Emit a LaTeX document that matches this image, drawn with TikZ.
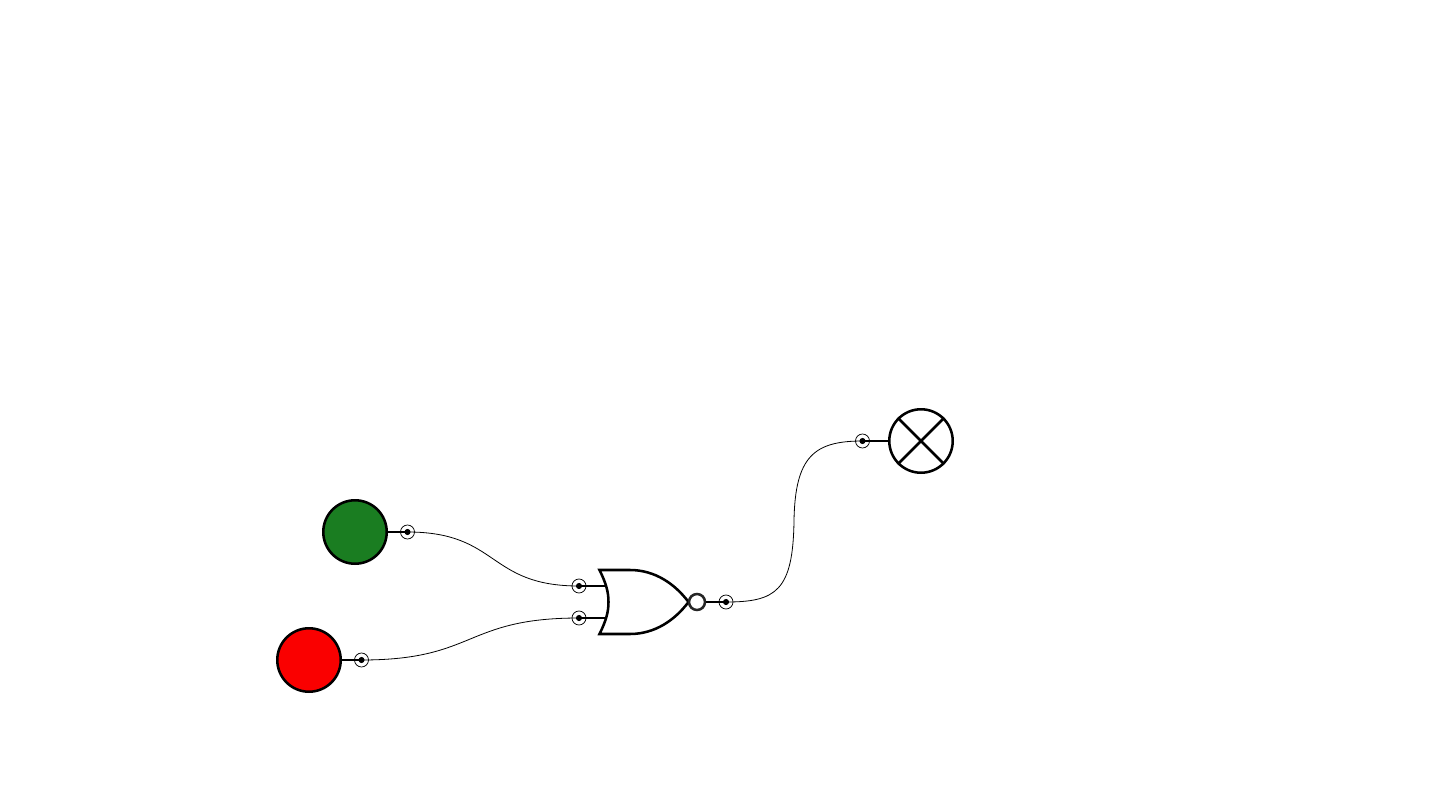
\documentclass[tikz,border=0pt]{standalone}
\definecolor{ledgreen}{RGB}{26,125,33}
\definecolor{ledred}{RGB}{250,0,0}
\tikzset{
  thick line/.style={line width=1.9pt,draw=black},
  wire/.style={line width=0.6pt,draw=black},
  bigcirc/.style={circle,thick line,inner sep=0pt,minimum size=47.6pt},
  terminal/.style={circle,draw=black,line width=0.55pt,inner sep=0pt,minimum size=10.5pt},
  dotmark/.style={circle,fill=black,inner sep=0pt,minimum size=4.6pt},
  bubble/.style={circle,draw=black!85,line width=1.9pt,fill=white,inner sep=0pt,minimum size=12pt},
}
\begin{document}
\begin{tikzpicture}[x=0.75pt,y=-0.75pt]
\useasboundingbox (0,0) rectangle (1440,810);
% sources and lamp
\node[bigcirc,fill=ledgreen] (green) at (355,532) {};
\node[bigcirc,fill=ledred] (red) at (309,660) {};
\node[bigcirc,fill=white] (lamp) at (921,441) {};
\draw[thick line] (lamp.45) -- (lamp.225) (lamp.135) -- (lamp.315);
% gate
\coordinate (inA) at (606.5,586);
\coordinate (inB) at (606.5,618);
\draw[thick line,fill=white,line join=miter] (599.5,570) -- (630,570)
  .. controls (655,570) and (675,584) .. (688.5,602)
  .. controls (675,620) and (655,634) .. (630,634) -- (599.5,634)
  .. controls (606,621) and (608.5,612) .. (608.5,602)
  .. controls (608.5,592) and (606,583) .. (599.5,570) -- cycle;
\node[bubble] (bub) at (697,602) {};
% terminals
\node[terminal] (tg) at (407.5,532) {};
\node[terminal] (tr) at (361.5,660) {};
\node[terminal] (ta) at (579,586) {};
\node[terminal] (tb) at (579,618) {};
\node[terminal] (to) at (726,602) {};
\node[terminal] (tl) at (862.5,441) {};
\node[dotmark] (dg) at (tg) {};
\node[dotmark] (dr) at (tr) {};
\node[dotmark] (da) at (ta) {};
\node[dotmark] (db) at (tb) {};
\node[dotmark] (do) at (to) {};
\node[dotmark] (dl) at (tl) {};
% stubs
\draw[thick line] (green.east) -- (tg.center);
\draw[thick line] (red.east) -- (tr.center);
\draw[thick line] (ta.center) -- (inA);
\draw[thick line] (tb.center) -- (inB);
\draw[thick line] (bub.east) -- (to.center);
\draw[thick line] (tl.center) -- (lamp.west);
% wires
\coordinate (mid) at (794,521);
\draw[wire] (tg.center) .. controls +(92,0) and +(-92,0) .. (ta.center);
\draw[wire] (tr.center) .. controls +(115,0) and +(-115,0) .. (tb.center);
\draw[wire] (to.center) .. controls +(50,0) and +(-1,70) .. (mid)
  .. controls +(1,-65) and +(-48,0) .. (tl.center);
\end{tikzpicture}
\end{document}
